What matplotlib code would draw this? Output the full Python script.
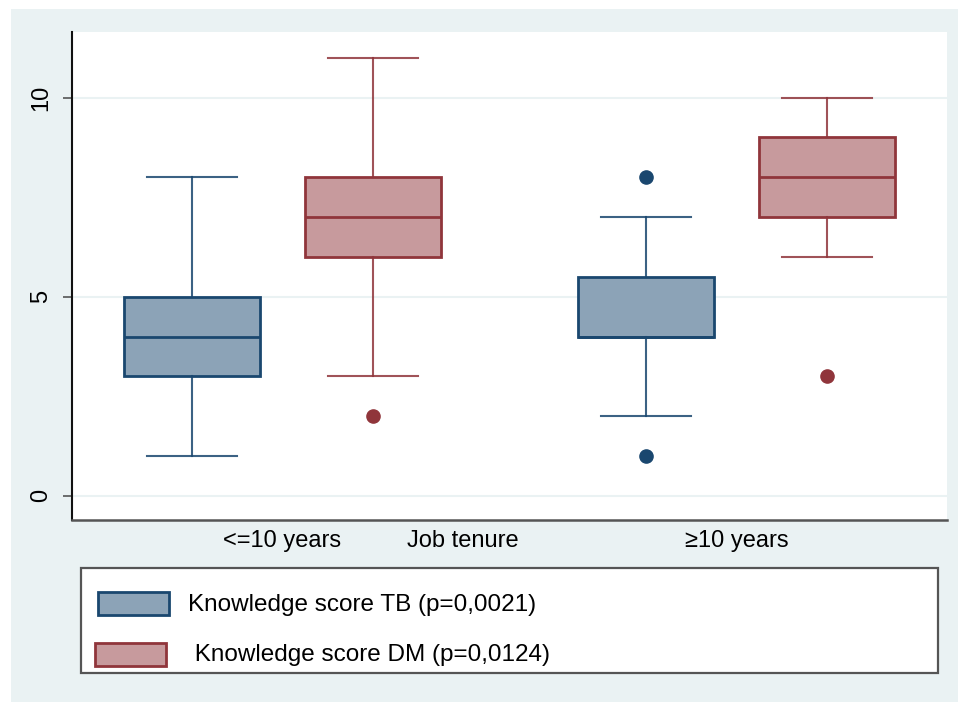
import matplotlib.pyplot as plt
from matplotlib.patches import Rectangle

plt.rcParams['font.family'] = ['Liberation Sans', 'DejaVu Sans']

groups = ['<=10 years', '≥10 years']
series = ['Knowledge score TB (p=0,0021)', ' Knowledge score DM (p=0,0124)']

# box stats per group: [TB, DM]
whislo = [[1, 3], [2, 6]]
q1 = [[3, 6], [4, 7]]
med = [[4, 7], [4, 8]]
q3 = [[5, 8], [5.5, 9]]
whishi = [[8, 11], [7, 10]]
fliers = [[[], [2]], [[8, 1], [3]]]

navy = '#1A476F'
maroon = '#90353B'
fills = ['#8CA3B7', '#C79A9D']
edges = [navy, maroon]
bg = '#EAF2F3'

fig = plt.figure(figsize=(9.58, 7.02), dpi=100, facecolor='white')
W, H = 958, 702
fig.patches.append(Rectangle((11 / W, 0), 1 - 11 / W, 1 - 9 / H,
                             transform=fig.transFigure, facecolor=bg,
                             edgecolor='none', zorder=-10))

ax = fig.add_axes([72 / W, 1 - 520 / H, 875 / W, 488 / H])
ax.set_facecolor('white')

positions = [[0, 1], [2.508, 3.508]]
for g in range(2):
    for s in range(2):
        st = dict(whislo=whislo[g][s], q1=q1[g][s], med=med[g][s],
                  q3=q3[g][s], whishi=whishi[g][s], fliers=fliers[g][s])
        c = edges[s]
        ax.bxp([st], positions=[positions[g][s]], widths=0.751,
               showfliers=True, patch_artist=True,
               boxprops=dict(facecolor=fills[s], edgecolor=c, linewidth=2),
               medianprops=dict(color=c, linewidth=2),
               whiskerprops=dict(color=c, linewidth=1.5, alpha=0.85),
               capprops=dict(color=c, linewidth=1.5, alpha=0.85),
               capwidths=0.5,
               flierprops=dict(marker='o', markerfacecolor=c,
                               markeredgecolor=c, markersize=9.5))

ax.set_xlim(-0.663, 4.171)
ax.set_ylim(-0.61, 11.65)

ax.set_yticks([0, 5, 10])
ax.set_yticklabels(['0', '5', '10'], rotation=90, va='center', fontsize=17)
ax.tick_params(axis='y', length=6.5, width=1.2, color='#555555', pad=8)
ax.yaxis.grid(True, color=bg, linewidth=1.5)
ax.set_axisbelow(True)

ax.set_xticks([0.5, 3.008])
ax.set_xticklabels(groups, fontsize=17)
ax.tick_params(axis='x', length=0, pad=7)
ax.text(1.497, -0.0205, 'Job tenure', transform=ax.get_xaxis_transform(),
        ha='center', va='top', fontsize=17)

for side in ['top', 'right']:
    ax.spines[side].set_visible(False)
ax.spines['left'].set_color('#111111')
ax.spines['left'].set_linewidth(1.5)
ax.spines['bottom'].set_color('#555555')
ax.spines['bottom'].set_linewidth(1.8)

# legend box
fig.patches.append(Rectangle((81 / W, 1 - 673 / H), 857 / W, 105 / H,
                             transform=fig.transFigure, facecolor='white',
                             edgecolor='#555555', linewidth=1.6))
patch_xy = [(98, 615), (95, 666)]
text_xy = [(188, 605), (188, 655)]
for s in range(2):
    px, py = patch_xy[s]
    fig.patches.append(Rectangle((px / W, 1 - py / H), 71 / W, 23 / H,
                                 transform=fig.transFigure, facecolor=fills[s],
                                 edgecolor=edges[s], linewidth=2))
    tx, ty = text_xy[s]
    fig.text(tx / W, 1 - ty / H, series[s], fontsize=17.5, va='center', ha='left')

fig.savefig('out.png', dpi=100)
